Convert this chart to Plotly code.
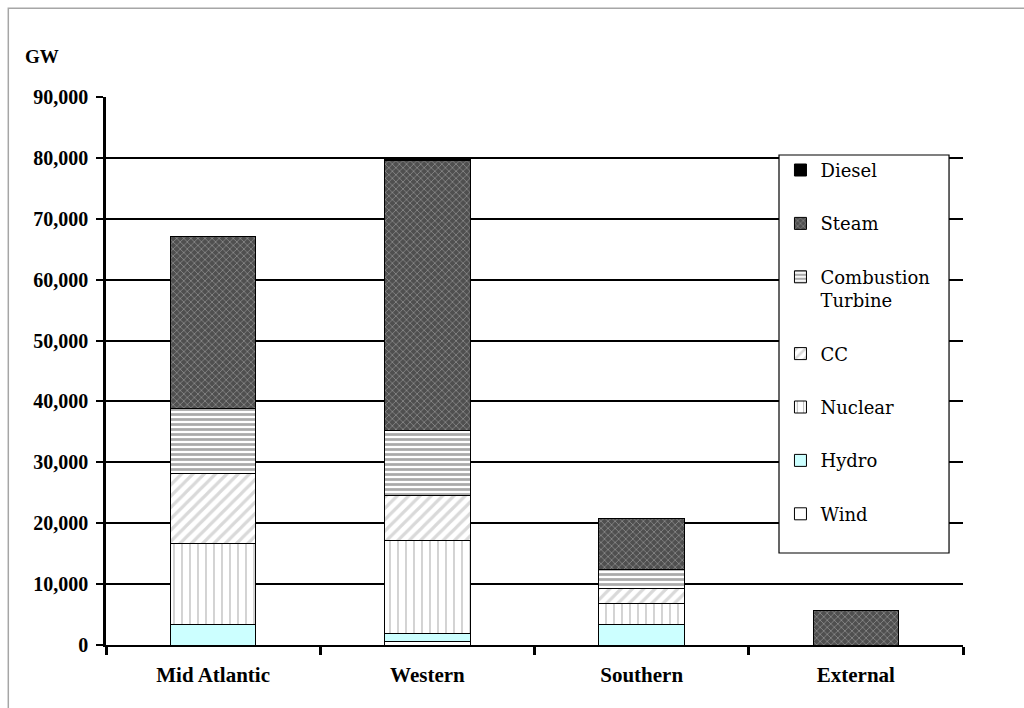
import plotly.graph_objects as go

# Installed generating capacity by region, stacked by unit type
regions = ["Mid Atlantic", "Western", "Southern", "External"]
wind = [None, 500, None, None]
hydro = [3300, 1400, 3400, None]
nuclear = [13300, 15300, 3450, None]
cc = [11600, 7300, 2450, None]
combustion_turbine = [10700, 10800, 3100, None]
steam = [28200, 44300, 8400, 5600]
diesel = [None, 300, None, None]

y_ticks = [0, 10000, 20000, 30000, 40000, 50000, 60000, 70000, 80000, 90000]

SERIF = "Liberation Serif"
LEGEND_FONT = "DejaVu Serif"

# bottom-to-top stacking order
series = [
    ("Wind", wind, dict(color="white")),
    ("Hydro", hydro, dict(color="#ccffff")),
    ("Nuclear", nuclear, dict(color="white",
                              pattern=dict(shape="|", fgcolor="#6e6e6e", bgcolor="white",
                                           size=8, solidity=0.15))),
    ("CC", cc, dict(color="white",
                    pattern=dict(shape="/", fgcolor="#b4b4b4", bgcolor="white",
                                 size=8, solidity=0.4))),
    ("Combustion<br>Turbine", combustion_turbine,
     dict(color="white",
          pattern=dict(shape="-", fgcolor="#555555", bgcolor="white",
                       size=5, solidity=0.55))),
    ("Steam", steam, dict(color="#4f4f4f",
                          pattern=dict(shape="x", fgcolor="#c4c4c4", bgcolor="#4f4f4f",
                                       size=5, solidity=0.3))),
    ("Diesel", diesel, dict(color="black")),
]

fig = go.Figure()
n = len(series)
for i, (name, values, marker) in enumerate(series):
    marker = dict(marker)
    marker["line"] = dict(color="black", width=1)
    fig.add_trace(go.Bar(
        name=name, x=regions, y=values, marker=marker,
        legendgroup=name, legendrank=(n - i) * 10,
    ))

# legend frame
fig.add_shape(type="rect", xref="paper", yref="paper",
              x0=0.7853, x1=0.9837, y0=0.1679, y1=0.8942,
              line=dict(color="black", width=1.2), fillcolor="white", layer="above")

# outer frame (top and left edges visible)
fig.add_shape(type="rect", xref="paper", yref="paper",
              x0=-0.114, x1=1.2, y0=-0.3, y1=1.162,
              line=dict(color="#a6a6a6", width=1.5), fillcolor="rgba(0,0,0,0)", layer="below")

fig.add_annotation(text="<b>GW</b>", xref="paper", yref="paper",
                   x=-0.075, y=1.073, xanchor="center", yanchor="middle",
                   showarrow=False, font=dict(family=SERIF, size=19, color="black"))

fig.update_layout(
    width=1024, height=708,
    barmode="stack", bargap=0.6,
    plot_bgcolor="white", paper_bgcolor="white",
    margin=dict(l=106, r=61, t=97, b=63, autoexpand=False),
    font=dict(family=SERIF, color="black"),
    showlegend=True,
    legend=dict(
        x=0.787, y=0.9, xanchor="left", yanchor="top",
        bgcolor="rgba(0,0,0,0)", borderwidth=0,
        traceorder="grouped", tracegroupgap=27,
        font=dict(family=LEGEND_FONT, size=18, color="black"),
        valign="top",
    ),
    xaxis=dict(
        showline=True, linecolor="black", linewidth=2,
        ticks="outside", tickson="boundaries", ticklen=8, tickwidth=2.5, tickcolor="black",
        tickfont=dict(family=SERIF, size=21, color="black"),
        ticklabelstandoff=10,
        showgrid=False,
    ),
    yaxis=dict(
        range=[0, 90000], tickvals=y_ticks, tickformat=",",
        showline=True, linecolor="black", linewidth=2.5,
        ticks="outside", ticklen=7, tickwidth=2, tickcolor="black",
        showgrid=True, gridcolor="black", gridwidth=1.5,
        tickfont=dict(family=SERIF, size=20, color="black"),
        ticklabelstandoff=4,
        zeroline=False,
    ),
)

fig.update_xaxes(tickvals=regions, ticktext=[f"<b>{r}</b>" for r in regions])
fig.update_yaxes(ticktext=[f"<b>{v:,}</b>" for v in y_ticks])

fig.write_html("out.html")
